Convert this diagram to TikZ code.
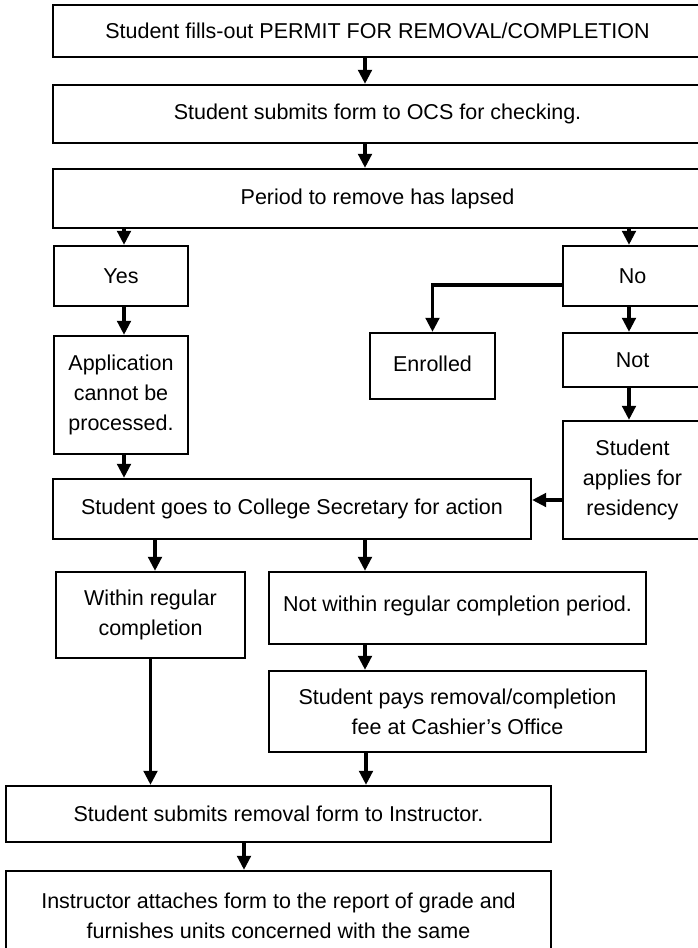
\documentclass[tikz,border=0pt]{standalone}
\usepackage{fontspec}
\setmainfont{Liberation Sans}
\usetikzlibrary{arrows.meta}
\begin{document}
\begin{tikzpicture}[x=1pt,y=-1pt,
  box/.style={draw,line width=2.3pt,rectangle,inner sep=0pt,align=center,
    font=\fontsize{21.5}{30}\selectfont},
  arr/.style={line width=3.3pt,-{Triangle[width=13.5pt,length=14pt]}}]
\useasboundingbox (0,0) rectangle (698,948);
\clip (0,0) rectangle (698,948);
% boxes
\node[box,minimum width=649,minimum height=52] (b1) at (377.5,31) {Student fills-out PERMIT FOR REMOVAL/COMPLETION};
\node[box,minimum width=649,minimum height=58] (b2) at (377.5,114) {Student submits form to OCS for checking.};
\node[box,minimum width=649,minimum height=59] (b3) at (377.5,198.5) {Period to remove has lapsed};
\node[box,minimum width=134,minimum height=60] (yes) at (121,276) {Yes};
\node[box,minimum width=139,minimum height=60] (no) at (632.5,276) {No};
\node[box,minimum width=125,minimum height=66] (enr) at (432.5,366) {\raisebox{4pt}{Enrolled}};
\node[box,minimum width=139,minimum height=54] (not) at (632.5,360) {Not};
\node[box,minimum width=134,minimum height=118] (app) at (121,395) {Application\\cannot be\\processed.};
\node[box,minimum width=139,minimum height=118] (appl) at (632.5,480) {Student\\applies for\\residency};
\node[box,minimum width=478,minimum height=60] (col) at (292,509) {Student goes to College Secretary for action};
\node[box,minimum width=189,minimum height=86] (within) at (150.5,615) {Within regular\\completion};
\node[box,minimum width=377,minimum height=72] (notw) at (457.5,608) {\raisebox{9pt}{Not within regular completion period.}};
\node[box,minimum width=377,minimum height=81] (pays) at (457.5,711.5) {Student pays removal/completion\\fee at Cashier’s Office};
\node[box,minimum width=545,minimum height=56] (sub) at (278.5,814) {Student submits removal form to Instructor.};
\node[box,minimum width=545,minimum height=89] (last) at (278.5,915.5) {Instructor attaches form to the report of grade and\\furnishes units concerned with the same};
% reference coordinates for connector positions
\coordinate (xA) at (365,0);
\coordinate (xY) at (124,0);
\coordinate (xN) at (629,0);
\coordinate (xW) at (155,0);
\coordinate (xP) at (366,0);
\coordinate (xS) at (244,0);
\coordinate (yE) at (0,285);
\coordinate (yF) at (0,500);
% connectors
\draw[arr] (b1.south -| xA) -- (b2.north -| xA);
\draw[arr] (b2.south -| xA) -- (b3.north -| xA);
\draw[arr] (b3.south -| xY) -- (yes.north -| xY);
\draw[arr] (b3.south -| xN) -- (no.north -| xN);
\draw[arr] (yes.south -| xY) -- (app.north -| xY);
\draw[arr] (app.south -| xY) -- (col.north -| xY);
\draw[arr] (no.south -| xN) -- (not.north -| xN);
\draw[arr] (no.west |- yE) -| (enr.north);
\draw[arr] (not.south -| xN) -- (appl.north -| xN);
\draw[arr] (appl.west |- yF) -- (col.east |- yF);
\draw[arr] (col.south -| xW) -- (within.north -| xW);
\draw[arr] (col.south -| xA) -- (notw.north -| xA);
\draw[arr] (within.south) -- (sub.north -| within.south);
\draw[arr] (notw.south -| xA) -- (pays.north -| xA);
\draw[arr] (pays.south -| xP) -- (sub.north -| xP);
\draw[arr] (sub.south -| xS) -- (last.north -| xS);
\end{tikzpicture}
\end{document}
